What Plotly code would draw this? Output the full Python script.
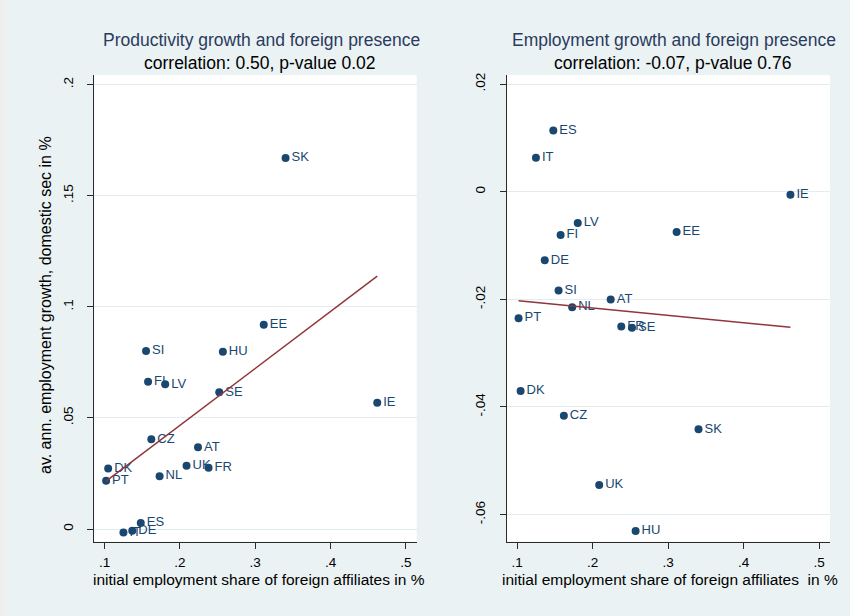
import numpy as np
import plotly.graph_objects as go

# ---------------- data ----------------
countries = ["PT", "DK", "IT", "DE", "ES", "SI", "FI", "CZ", "NL", "LV",
             "UK", "AT", "FR", "SE", "HU", "EE", "SK", "IE"]
foreign_share = [0.102, 0.1047, 0.125, 0.1367, 0.148, 0.155, 0.1577, 0.162, 0.173, 0.1804,
                 0.2088, 0.224, 0.238, 0.2522, 0.257, 0.3113, 0.3403, 0.462]
productivity_growth = [0.0217, 0.0273, -0.0015, -0.0008, 0.0027, 0.0801, 0.0663, 0.0404, 0.0238, 0.0651,
                       0.0285, 0.0368, 0.0276, 0.0615, 0.0798, 0.0919, 0.1669, 0.0568]
employment_growth = [-0.0235, -0.03703, 0.0063, -0.01274, 0.01137, -0.01836, -0.00805, -0.04161, -0.02146, -0.00582,
                     -0.05452, -0.02003, -0.02503, -0.02529, -0.06305, -0.00749, -0.04414, -0.00056]

x_tickvals = [0.1, 0.2, 0.3, 0.4, 0.5]
x_ticktext = [".1", ".2", ".3", ".4", ".5"]
yl_tickvals = [0, 0.05, 0.1, 0.15, 0.2]
yl_ticktext = ["0", ".05", ".1", ".15", ".2"]
yr_tickvals = [-0.06, -0.04, -0.02, 0, 0.02]
yr_ticktext = ["-.06", "-.04", "-.02", "0", ".02"]

title_left = "Productivity growth and foreign presence"
sub_left = "correlation: 0.50, p-value 0.02"
title_right = "Employment growth and foreign presence"
sub_right = "correlation: -0.07, p-value 0.76"
xtitle_left = "initial employment share of foreign affiliates in %"
xtitle_right = "initial employment share of foreign affiliates\u00a0 in %"
ytitle_left = "av. ann. employment growth, domestic sec in %"

# ---------------- style ----------------
FONT = "Liberation Sans, Arial, sans-serif"
NAVY = "#1a476f"
MAROON = "#90353b"
BG = "#eaf2f3"
GRID = "#e3ecee"
AXIS = "#2a2a2a"

W, H = 850, 616


def px_x(p):
    return p / W


def px_y(p):
    return (H - p) / H


xs = np.array(foreign_share)
xfit = np.array([xs.min(), xs.max()])

fig = go.Figure()

for ydata, xa, ya in [(productivity_growth, "x", "y"), (employment_growth, "x2", "y2")]:
    coef = np.polyfit(xs, np.array(ydata), 1)
    fig.add_trace(go.Scatter(
        x=xs, y=ydata, mode="markers+text", text=countries,
        textposition="middle right",
        textfont=dict(family=FONT, size=13, color=NAVY),
        marker=dict(size=8, color=NAVY, line=dict(width=0)),
        xaxis=xa, yaxis=ya, showlegend=False, cliponaxis=False))
    fig.add_trace(go.Scatter(
        x=xfit, y=np.polyval(coef, xfit), mode="lines",
        line=dict(color=MAROON, width=1.5),
        xaxis=xa, yaxis=ya, showlegend=False))

common_x = dict(range=[0.0863, 0.5144], tickvals=x_tickvals, ticktext=x_ticktext,
                showgrid=False, zeroline=False, showline=True, linecolor=AXIS, linewidth=1,
                ticks="outside", ticklen=6, tickcolor=AXIS, tickwidth=1, ticklabelstandoff=2,
                tickfont=dict(family=FONT, size=13.5, color="black"), automargin=False)
common_y = dict(showgrid=True, gridcolor=GRID, gridwidth=1, zeroline=False,
                showline=True, linecolor=AXIS, linewidth=1,
                ticks="outside", ticklen=6, tickcolor=AXIS, tickwidth=1,
                tickangle=-90, ticklabelstandoff=9,
                tickfont=dict(family=FONT, size=13.5, color="black"), automargin=False)

ydom = [px_y(541.5), px_y(75)]

fig.update_layout(
    width=W, height=H,
    margin=dict(l=0, r=0, t=0, b=0),
    paper_bgcolor=BG, plot_bgcolor="white",
    xaxis=dict(**common_x, anchor="y", domain=[px_x(94.3), px_x(416.7)]),
    yaxis=dict(**common_y, anchor="x", domain=ydom, range=[-0.0056, 0.2043],
               tickvals=yl_tickvals, ticktext=yl_ticktext),
    xaxis2=dict(**common_x, anchor="y2", domain=[px_x(506.7), px_x(830)]),
    yaxis2=dict(**common_y, anchor="x2", domain=ydom, range=[-0.0650, 0.0217],
                tickvals=yr_tickvals, ticktext=yr_ticktext),
    font=dict(family=FONT),
)

ann = []
ann.append(dict(text=title_left, x=px_x(261), y=px_y(40), xref="paper", yref="paper",
                xanchor="center", yanchor="middle", showarrow=False,
                font=dict(family=FONT, size=17.5, color="#2b3b5e")))
ann.append(dict(text=sub_left, x=px_x(260), y=px_y(62.5), xref="paper", yref="paper",
                xanchor="center", yanchor="middle", showarrow=False,
                font=dict(family=FONT, size=17.5, color="black")))
ann.append(dict(text=title_right, x=px_x(674), y=px_y(40), xref="paper", yref="paper",
                xanchor="center", yanchor="middle", showarrow=False,
                font=dict(family=FONT, size=17.5, color="#2b3b5e")))
ann.append(dict(text=sub_right, x=px_x(672), y=px_y(62.5), xref="paper", yref="paper",
                xanchor="center", yanchor="middle", showarrow=False,
                font=dict(family=FONT, size=17.5, color="black")))
ann.append(dict(text=xtitle_left, x=px_x(258.5), y=px_y(579), xref="paper", yref="paper",
                xanchor="center", yanchor="middle", showarrow=False,
                font=dict(family=FONT, size=15.5, color="black")))
ann.append(dict(text=xtitle_right, x=px_x(670), y=px_y(579), xref="paper", yref="paper",
                xanchor="center", yanchor="middle", showarrow=False,
                font=dict(family=FONT, size=15.5, color="black")))
ann.append(dict(text=ytitle_left, x=px_x(45), y=px_y(305), xref="paper", yref="paper",
                xanchor="center", yanchor="middle", showarrow=False, textangle=-90,
                font=dict(family=FONT, size=16, color="black")))
fig.update_layout(annotations=ann)

fig.add_shape(type="rect", xref="paper", yref="paper", x0=0, x1=px_x(6), y0=0, y1=1,
              fillcolor="#efefef", line=dict(width=0), layer="below")

fig.write_html("out.html", config={"displayModeBar": False},
               post_script="document.body.style.margin='0';document.body.style.overflow='hidden';")
